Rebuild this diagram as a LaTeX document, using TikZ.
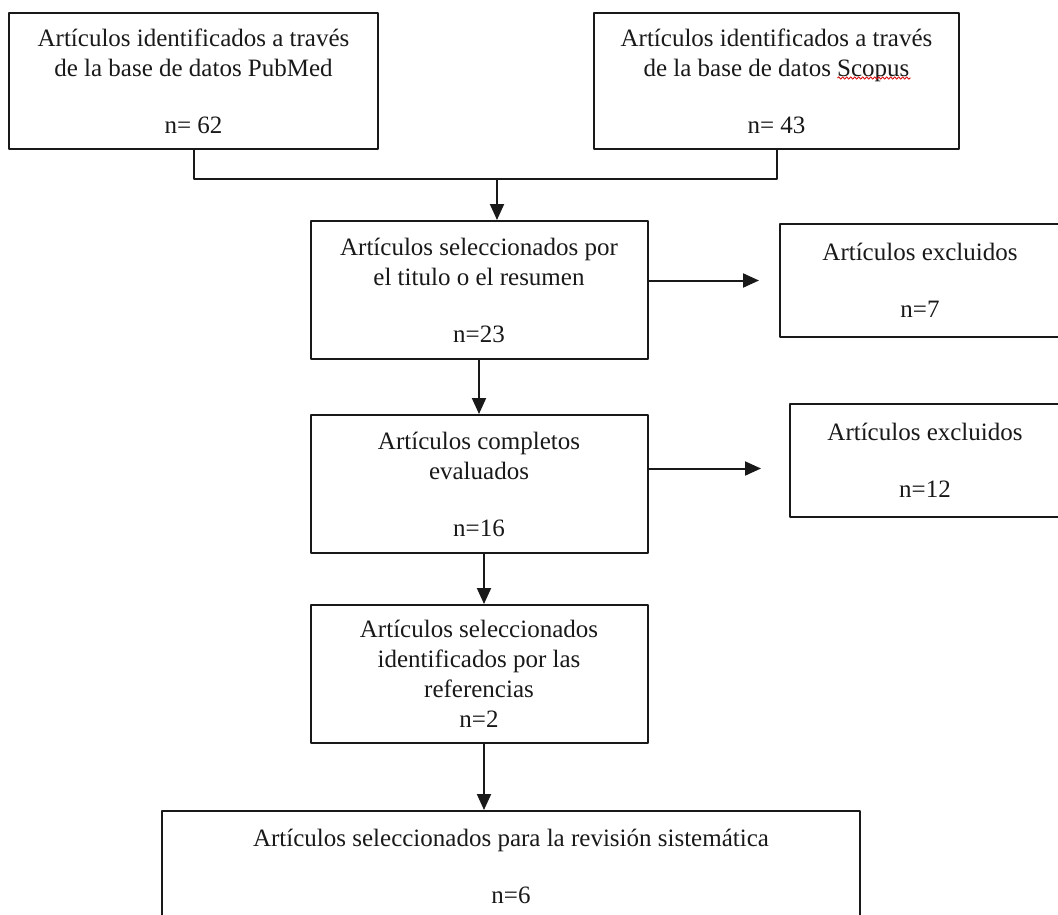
\documentclass[tikz,border=0pt]{standalone}
\usepackage{fontspec}
\setmainfont{Liberation Serif}
\usetikzlibrary{arrows.meta, decorations.pathmorphing}

\begin{document}
\begin{tikzpicture}[x=1pt, y=-1pt, line join=round,
    box/.style={draw=black!90, line width=2pt, align=center, inner sep=0pt,
      font=\fontsize{25}{30}\selectfont, text=black!90},
    link/.style={draw=black!90, line width=2pt},
    arr/.style={link, -{Triangle[length=16pt, width=14pt]}},
    spell/.style={draw=red!85!black, line width=0.8pt, decorate,
      decoration={snake, amplitude=1.2pt, segment length=4pt}}]
  \useasboundingbox (0,0) rectangle (1058,915);

  \node[box, minimum width=369pt, minimum height=136pt] (pubmed) at (193.5,81)
    {Artículos identificados a través\\de la base de datos PubMed\\[27pt]n= 62};
  \node[box, minimum width=365pt, minimum height=136pt] (scopus) at (776.5,81)
    {Artículos identificados a través\\de la base de datos Scopus\\[27pt]n= 43};
  \node[box, minimum width=337pt, minimum height=138pt] (titulo) at (479,290)
    {Artículos seleccionados por\\el titulo o el resumen\\[27pt]n=23};
  \node[box, minimum width=280pt, minimum height=113pt] (excl1) at (920,280.5)
    {Artículos excluidos\\[27pt]n=7};
  \node[box, minimum width=337pt, minimum height=138pt] (completos) at (479,484)
    {Artículos completos\\evaluados\\[27pt]n=16};
  \node[box, minimum width=270pt, minimum height=113pt] (excl2) at (925,460.5)
    {Artículos excluidos\\[27pt]n=12};
  \node[box, minimum width=337pt, minimum height=138pt] (referencias) at (479,674)
    {Artículos seleccionados\\identificados por las\\referencias\\n=2};
  \node[box, minimum width=698pt, minimum height=111pt] (final) at (511,866.5)
    {Artículos seleccionados para la revisión sistemática\\[27pt]n=6};

  \draw[spell] ([xshift=61pt, yshift=-66pt]scopus.north) -- ++(73,0);

  \coordinate (join) at (497,179);
  \coordinate (e2) at ([yshift=-8pt]excl2.west);

  \draw[link] (pubmed.south) |- (join) -| (scopus.south);
  \draw[arr] (join) -- (join |- titulo.north);
  \draw[arr, shorten >=20pt] (titulo.east |- excl1) -- (excl1.west);
  \draw[arr] (titulo.south) -- (completos.north);
  \draw[arr, shorten >=28pt] (completos.east |- e2) -- (e2);
  \draw[arr] ([xshift=5pt]completos.south) -- ([xshift=5pt]referencias.north);
  \draw[arr] ([xshift=5pt]referencias.south) -- ([xshift=5pt]referencias.south |- final.north);
\end{tikzpicture}
\end{document}
